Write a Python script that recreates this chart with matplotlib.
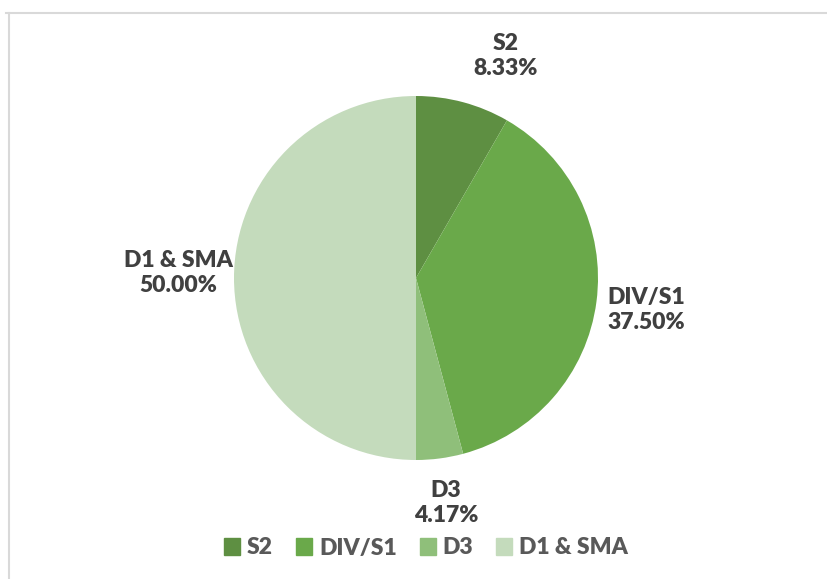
import matplotlib.pyplot as plt
from matplotlib.lines import Line2D

# data
labels = ['S2', 'DIV/S1', 'D3', 'D1 & SMA']
values = [8.33, 37.50, 4.17, 50.00]
colors = ['#5e8f42', '#6aa94a', '#8fbf7a', '#c4dbbc']

# label positions (data coords, pie radius = 1)
label_pos = [(0.49, 1.22), (1.264, -0.176), (0.165, -1.236), (-1.308, 0.027)]

plt.rcParams['font.family'] = ['Lato', 'DejaVu Sans']

fig = plt.figure(figsize=(8.27, 5.79), dpi=100)
fig.patch.set_facecolor('white')

# partial frame like the reference (top and left edges)
fig.add_artist(Line2D([6 / 827, 1.0], [1 - 13 / 579, 1 - 13 / 579],
                      transform=fig.transFigure, color='#d9d9d9', lw=1.5))
fig.add_artist(Line2D([8.5 / 827, 8.5 / 827], [0.0, 1 - 13 / 579],
                      transform=fig.transFigure, color='#d9d9d9', lw=1.5))

ax = fig.add_axes([(416 - 182) / 827, (579 - 460) / 579, 364 / 827, 364 / 579])
wedges, _ = ax.pie(values, colors=colors, startangle=90, counterclock=False,
                   radius=1.0, wedgeprops=dict(linewidth=0))
ax.set_xlim(-1, 1)
ax.set_ylim(-1, 1)
ax.set_aspect('auto')
ax.axis('off')

for lab, val, (x, y) in zip(labels, values, label_pos):
    ax.text(x, y, lab + '\n' + '%.2f%%' % val, ha='center', va='center',
            fontsize=16.5, fontweight='heavy', color='#404040',
            linespacing=1.2, clip_on=False)

handles = [plt.Rectangle((0, 0), 1, 1, color=c) for c in colors]
fig.legend(handles, labels, loc='center', bbox_to_anchor=(426 / 827, 1 - 548 / 579),
           ncol=4, frameon=False, handlelength=0.7, handleheight=0.7,
           handletextpad=0.3, columnspacing=1.0,
           prop=dict(family=['Lato', 'DejaVu Sans'], weight='heavy', size=16.5))
for t in fig.legends[0].get_texts():
    t.set_color('#595959')

plt.savefig('out.png', dpi=100)
